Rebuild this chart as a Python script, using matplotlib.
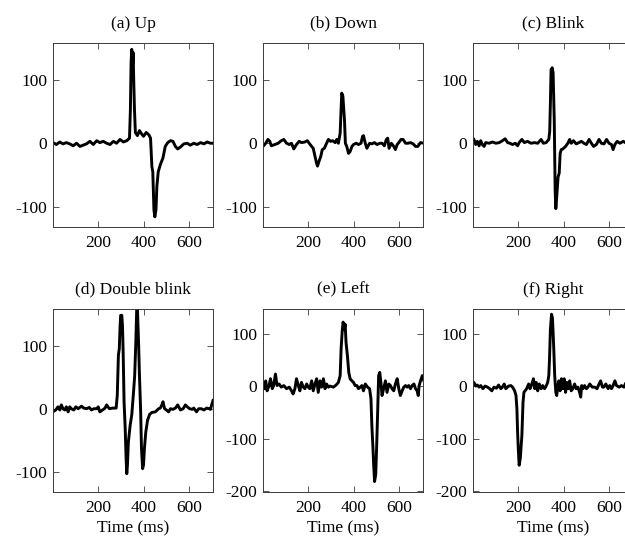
import matplotlib
matplotlib.use("Agg")
import matplotlib.pyplot as plt

# ---------------------------------------------------------------------------
# Konfiguracja
# ---------------------------------------------------------------------------
matplotlib.rcParams.update({
    "font.family": "serif",
    "font.serif": ["Liberation Serif", "DejaVu Serif"],
    "font.size": 12.5,
    "axes.linewidth": 0.7,
    "axes.edgecolor": "#3a3a3a",
    "axes.unicode_minus": False,
})

# ---------------------------------------------------------------------------
# Dane (czas [ms], amplituda)
# ---------------------------------------------------------------------------
t_up = [0, 15, 30, 44, 59, 74, 89, 104, 119, 133, 148, 163, 178, 193, 207, 222,
        237, 252, 267, 281, 296, 311, 326, 338, 342, 345, 348, 351, 354, 357,
        360, 364, 373, 382, 391, 400, 412, 424, 431, 437, 441, 446, 450, 455,
        459, 465, 474, 486, 496, 507, 519, 530, 541, 551, 563, 578, 593, 607,
        622, 637, 652, 667, 681, 696, 711]
v_up = [1, -2, 2, -1, 1, -1, -4, 0, -5, -3, -1, 3, -2, 4, 1, 3,
        0, -2, 3, 0, 6, 2, 4, 8, 53, 127, 148, 116, 143, 95,
        53, 17, 12, 20, 15, 11, 17, 13, 8, -37, -45, -105, -116, -105,
        -68, -45, -34, -23, -5, 1, 4, 3, -5, -9, -6, -1, 0, -3,
        0, -2, 1, -1, 2, 0, 0]

t_down = [0, 12, 22, 30, 37, 52, 67, 81, 92, 104, 116, 126, 136, 148, 160, 170,
          185, 196, 204, 215, 222, 230, 237, 241, 247, 255, 262, 271, 281, 289,
          299, 308, 319, 326, 333, 341, 345, 348, 353, 356, 360, 364, 370, 378,
          385, 393, 400, 412, 422, 433, 440, 444, 452, 459, 471, 481, 492, 504,
          516, 526, 536, 545, 551, 557, 567, 578, 585, 593, 600, 610, 619, 630,
          640, 652, 664, 674, 684, 696, 711]
v_down = [-5, 0, 6, 3, -4, -2, 0, 4, 6, 0, -2, 0, -9, -2, 3, 1,
          2, 4, 0, -5, -8, -21, -32, -36, -29, -21, -10, -8, 0, 6,
          3, 4, 1, 6, 0, 16, 53, 79, 74, 58, 37, 0, -5, -16,
          -13, -5, -2, 0, -2, 0, 11, 12, 0, -8, 0, -1, 1, -2,
          0, 0, -4, 6, 8, -8, 0, -5, -10, -2, 1, 6, 6, 0,
          0, 1, -1, -5, -5, 1, 0]

t_blink = [4, 12, 19, 27, 34, 41, 49, 56, 71, 86, 101, 116, 130, 142, 153, 163,
           175, 187, 197, 204, 216, 227, 241, 256, 271, 286, 301, 311, 323, 335,
           339, 342, 345, 350, 354, 359, 363, 366, 369, 372, 376, 381, 385, 390,
           397, 409, 419, 427, 434, 444, 456, 468, 479, 490, 501, 513, 523, 533,
           545, 557, 567, 579, 590, 601, 612, 619, 627, 637, 649, 664, 673]
v_blink = [6, -2, 3, -4, 4, -2, -5, 1, 0, 2, 0, 1, 4, 7, 1, 0,
           -2, 0, -4, 1, 6, 1, 3, 0, 1, 0, 6, 0, 1, 6,
           19, 64, 116, 119, 111, 37, -74, -103, -89, -74, -53, -47, -16, -10,
           -9, -5, 0, 6, 0, 4, -1, 1, 3, 0, -2, 6, 0, -5,
           -2, 6, 0, -1, 6, 0, -2, -10, -2, 3, 0, 3, 1]

t_double = [0, 12, 22, 30, 37, 44, 52, 59, 67, 74, 81, 92, 101, 111, 126, 136,
            148, 160, 170, 181, 193, 200, 207, 219, 230, 237, 249, 264, 279, 284,
            289, 293, 296, 299, 304, 307, 310, 314, 319, 323, 326, 329, 333, 341,
            348, 356, 361, 366, 370, 373, 378, 382, 387, 391, 396, 400, 404, 410,
            418, 427, 437, 452, 467, 474, 481, 486, 493, 501, 511, 519, 530, 541,
            551, 563, 575, 585, 593, 604, 615, 622, 634, 644, 655, 667, 679, 689,
            696, 701, 707]
v_double = [-5, -2, 3, -2, 6, 0, -2, 3, -5, 3, 0, -2, 3, 0, 4, 1,
            0, 2, -2, 0, 0, 3, -5, -2, 1, 6, 0, 1, 1, 21,
            85, 95, 127, 148, 148, 132, 90, 11, -31, -79, -103, -89, -53, -26,
            -10, 27, 53, 106, 159, 159, 106, 53, 0, -63, -95, -89, -63, -37,
            -18, -9, -6, -5, 0, 1, 6, 11, 0, -2, -5, 0, -1, 1,
            6, -2, 0, 6, 3, 0, -1, 1, -5, 0, 0, -2, 1, 0,
            -1, 6, 13]

t_left = [0, 7, 12, 18, 27, 33, 41, 47, 55, 62, 71, 81, 92, 104, 116, 126,
          133, 141, 148, 156, 163, 170, 178, 185, 193, 200, 207, 215, 222, 230,
          237, 244, 252, 259, 267, 274, 281, 289, 296, 311, 323, 333, 341, 345,
          350, 354, 359, 363, 367, 373, 379, 385, 393, 400, 407, 415, 422, 430,
          437, 444, 452, 462, 471, 477, 481, 486, 489, 493, 498, 502, 507, 511,
          516, 521, 526, 533, 541, 548, 556, 563, 570, 578, 585, 593, 600, 607,
          615, 622, 630, 637, 644, 652, 659, 667, 674, 681, 686, 690, 696, 704,
          711]
v_left = [4, -5, 10, -9, 1, 14, -5, 1, 23, 1, 4, -2, 1, -5, -2, -9,
          -15, -5, 14, 1, -9, 7, -2, -5, 4, -2, -5, 10, -9, 4,
          14, -12, 10, -2, 14, -5, 4, -2, 0, -2, 2, 7, 20, 70,
          105, 122, 108, 118, 83, 58, 26, 14, 10, 7, 1, 1, -5, -2,
          1, -9, 4, -2, -5, -24, -75, -119, -150, -182, -169, -119, -43, 20,
          26, 7, -18, -5, 10, -12, 4, 1, -5, -9, 4, 14, -5, -18,
          -9, -2, 1, -2, 1, -5, 1, 4, -5, -9, -18, 1, 10, 20,
          10]

t_right = [0, 4, 12, 19, 27, 34, 44, 53, 64, 74, 83, 93, 104, 113, 123, 130,
           138, 145, 157, 167, 175, 184, 190, 194, 197, 200, 204, 209, 212, 216,
           221, 225, 230, 237, 246, 252, 258, 267, 273, 279, 286, 293, 301, 308,
           316, 323, 330, 335, 338, 342, 347, 351, 354, 357, 361, 366, 370, 375,
           379, 385, 391, 397, 403, 409, 415, 421, 427, 434, 441, 449, 456, 464,
           471, 476, 480, 486, 493, 501, 508, 516, 527, 538, 548, 557, 564, 572,
           578, 587, 597, 604, 612, 619, 627, 634, 646, 656, 667, 673]
v_right = [4, 7, 0, 2, -2, 1, -5, 0, -2, -5, -9, -2, -4, 2, -5, -2,
           4, -5, 0, 1, -2, -9, -18, -43, -87, -119, -151, -138, -119, -94,
           -31, -12, -9, -5, 4, -5, 1, 14, -5, 7, -9, 4, -5, 1,
           -5, 0, 7, 20, 51, 108, 137, 130, 102, 70, 20, -12, -18, 1,
           10, -9, 14, -5, 14, -12, 7, -5, 10, -9, -5, 4, -5, -2,
           -12, -21, 1, -5, 1, -5, -2, 4, -2, -2, -5, 4, 10, -2,
           -2, 4, -5, 1, -5, 1, 10, 1, -2, 1, -2, 4]

titles = ["(a) Up", "(b) Down", "(c) Blink",
          "(d) Double blink", "(e) Left", "(f) Right"]
series = [(t_up, v_up), (t_down, v_down), (t_blink, v_blink),
          (t_double, v_double), (t_left, v_left), (t_right, v_right)]

xticks = [200, 400, 600]
yticks_small = [-100, 0, 100]
yticks_large = [-200, -100, 0, 100]

# ---------------------------------------------------------------------------
# Wykres
# ---------------------------------------------------------------------------
W, H = 625, 539
fig = plt.figure(figsize=(W / 100, H / 100), dpi=100)

lefts = [53, 263, 473]
rows = [(43, 227), (309, 492)]

for i, (title, (t, v)) in enumerate(zip(titles, series)):
    r, c = divmod(i, 3)
    top, bot = rows[r]
    ax = fig.add_axes([lefts[c] / W, 1 - bot / H, 160 / W, (bot - top) / H])
    ax.plot(t, v, color="black", linewidth=2.1)
    ax.set_xlim(0, 707)
    if i >= 4:
        ax.set_ylim(-202, 147)
        ax.set_yticks(yticks_large)
    else:
        ax.set_ylim(-132, 158)
        ax.set_yticks(yticks_small)
    ax.set_xticks(xticks)
    ax.tick_params(direction="in", top=True, right=True, length=4,
                   width=0.6, color="#3a3a3a")
    ax.tick_params(axis="x", pad=6)
    ax.tick_params(axis="y", pad=4)
    ax.set_title(title, fontsize=12.5, pad=11)
    if r == 1:
        ax.set_xlabel("Time (ms)", labelpad=3)

fig.savefig("out.png", dpi=100)
